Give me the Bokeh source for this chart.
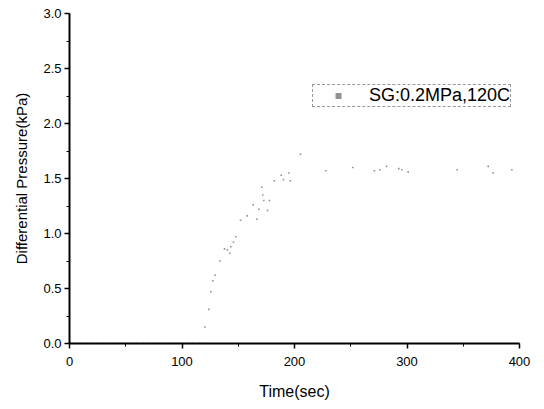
from bokeh.plotting import figure
from bokeh.models import Range1d, Legend, LegendItem, SingleIntervalTicker, NumeralTickFormatter
from bokeh.embed import file_html
from bokeh.resources import INLINE

# baseline readings (before pressure rise)
t_base = [0, 5, 10, 15, 20, 25, 30, 35, 40, 45, 50, 55, 60, 65, 70, 75, 80, 85,
          90, 95, 100, 105, 110, 115, 118]
p_base = [0, 0, 0, 0, 0, 0, 0, 0, 0, 0, 0, 0, 0, 0, 0, 0, 0, 0,
          0, 0, 0, 0, 0, 0, 0]

# rise and plateau
t_rise = [120.3, 123.8, 125.6, 127.4, 129.5, 133.6, 137.8, 140.4, 142.5, 143.4,
          145.8, 147.8, 152.0, 158.0, 163.3, 166.5, 168.3, 171.0, 171.8, 172.7,
          176.0, 177.8, 182.0, 188.2, 190.2, 195.0, 196.2, 205.3,
          227.8, 251.8, 271.0, 275.8, 281.8, 292.7, 295.4, 301.0, 344.6,
          372.2, 376.6, 393.2]
p_rise = [0.15, 0.31, 0.47, 0.57, 0.62, 0.75, 0.86, 0.85, 0.82, 0.88,
          0.92, 0.97, 1.12, 1.16, 1.26, 1.13, 1.22, 1.42, 1.35, 1.30,
          1.21, 1.30, 1.48, 1.53, 1.49, 1.55, 1.48, 1.72,
          1.57, 1.60, 1.57, 1.58, 1.61, 1.59, 1.58, 1.56, 1.58,
          1.61, 1.55, 1.58]

series_label = "SG:0.2MPa,120C"
x_title = "Time(sec)"
y_title = "Differential Pressure(kPa)"

FONT = "Liberation Sans"

p = figure(width=544, height=409, output_backend="svg", toolbar_location=None,
           x_range=Range1d(0, 400), y_range=Range1d(0, 3.0),
           min_border_left=69, min_border_right=25, min_border_top=13,
           min_border_bottom=66)
p.outline_line_color = None
p.grid.visible = False
p.background_fill_color = "white"
p.border_fill_color = "white"

r0 = p.scatter(t_base, p_base, marker="square", size=1.6, color="#777777",
               line_color=None, alpha=0.8)
r1 = p.scatter(t_rise, p_rise, marker="square", size=1.6, color="#777777",
               line_color=None, alpha=0.8)

p.xaxis.ticker = SingleIntervalTicker(interval=100, num_minor_ticks=2)
p.yaxis.ticker = SingleIntervalTicker(interval=0.5, num_minor_ticks=2)
p.yaxis.formatter = NumeralTickFormatter(format="0.0")

for ax in (p.xaxis[0], p.yaxis[0]):
    ax.axis_line_width = 2
    ax.axis_line_color = "black"
    ax.major_tick_line_color = "black"
    ax.minor_tick_line_color = "black"
    ax.major_tick_line_width = 1.5
    ax.minor_tick_line_width = 1
    ax.major_tick_in = 0
    ax.major_tick_out = 5
    ax.minor_tick_in = 0
    ax.minor_tick_out = 3
    ax.major_label_text_font = FONT
    ax.major_label_text_font_size = "13px"
    ax.major_label_text_color = "black"
    ax.axis_label_text_font = FONT
    ax.axis_label_text_font_style = "normal"
    ax.axis_label_text_color = "black"

p.xaxis.major_label_standoff = 8
p.yaxis.major_label_standoff = 3

p.xaxis.axis_label = x_title
p.xaxis.axis_label_text_font_size = "16px"
p.xaxis.axis_label_standoff = 14
p.yaxis.axis_label = y_title
p.yaxis.axis_label_text_font_size = "15px"
p.yaxis.axis_label_standoff = 10

legend = Legend(items=[LegendItem(label=series_label, renderers=[r1])],
                location=(243, 236), orientation="vertical")
legend.label_text_font = FONT
legend.label_text_font_size = "18px"
legend.label_text_color = "black"
legend.glyph_width = 50
legend.glyph_height = 15
legend.label_height = 15
legend.label_standoff = 6
legend.padding = 0
legend.margin = 0
legend.spacing = 0
legend.border_line_color = "#333333"
legend.border_line_dash = "3 2"
legend.border_line_width = 1
legend.background_fill_alpha = 1
p.add_layout(legend)

open("out.html", "w").write(file_html(p, INLINE))
